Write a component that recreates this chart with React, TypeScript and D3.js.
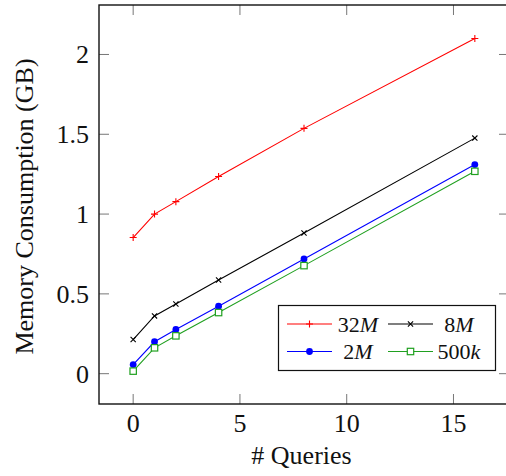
import React from "react";
import * as d3 from "d3";

// Number of concurrent queries (x values shared by every series)
const queries = [0, 1, 2, 4, 8, 16];

// Memory consumption in GB per dataset size
const mem32M = [0.853, 1.0, 1.078, 1.235, 1.537, 2.1];
const mem8M = [0.214, 0.362, 0.437, 0.587, 0.881, 1.476];
const mem2M = [0.057, 0.2, 0.277, 0.423, 0.719, 1.31];
const mem500k = [0.016, 0.162, 0.237, 0.383, 0.677, 1.268];

const xTicks = [0, 5, 10, 15];
const yTicks = [0, 0.5, 1, 1.5, 2];
const yTickLabels = ["0", "0.5", "1", "1.5", "2"];

type Marker = "plus" | "cross" | "dot" | "square";
const series = [
  { num: "32", unit: "M", values: mem32M, color: "#ff0000", marker: "plus" as Marker },
  { num: "8", unit: "M", values: mem8M, color: "#000000", marker: "cross" as Marker },
  { num: "2", unit: "M", values: mem2M, color: "#0000ff", marker: "dot" as Marker },
  { num: "500", unit: "k", values: mem500k, color: "#20a020", marker: "square" as Marker },
];

const W = 506;
const H = 476;
const box = { left: 99, right: 509, top: 5, bottom: 404 };
const FONT = '"Liberation Serif", "Times New Roman", serif';

const x = d3.scaleLinear().domain([-1.6, 17.6]).range([box.left, box.right]);
const y = d3.scaleLinear().domain([-0.19, 2.31]).range([box.bottom, box.top]);

function MarkerShape({ kind, cx, cy, color }: { kind: Marker; cx: number; cy: number; color: string }) {
  if (kind === "plus") {
    const s = 3.5;
    return (
      <path d={`M${cx - s},${cy}H${cx + s}M${cx},${cy - s}V${cy + s}`} stroke={color} strokeWidth={1.1} fill="none" />
    );
  }
  if (kind === "cross") {
    const s = 2.6;
    return (
      <path
        d={`M${cx - s},${cy - s}L${cx + s},${cy + s}M${cx - s},${cy + s}L${cx + s},${cy - s}`}
        stroke={color}
        strokeWidth={1.1}
        fill="none"
      />
    );
  }
  if (kind === "dot") {
    return <circle cx={cx} cy={cy} r={3.4} fill={color} />;
  }
  const s = 3.2;
  return <rect x={cx - s} y={cy - s} width={2 * s} height={2 * s} fill="white" stroke={color} strokeWidth={1.2} />;
}

export default function App() {
  const line = d3
    .line<number>()
    .x((_, i) => x(queries[i]))
    .y((v) => y(v));

  const legend = { x0: 278.5, y0: 305.5, w: 217, h: 65 };
  const rowY = [324, 351.5];
  const colX = [287, 388];

  return (
    <svg
      width={W}
      height={H}
      style={{ position: "absolute", left: 0, top: 0, background: "white", fontFamily: FONT }}
    >
      {/* tick marks on all four sides */}
      <g stroke="#777" strokeWidth={1}>
        {xTicks.map((t) => (
          <g key={`xt${t}`}>
            <line x1={x(t)} x2={x(t)} y1={box.bottom} y2={box.bottom - 10} />
            <line x1={x(t)} x2={x(t)} y1={box.top} y2={box.top + 10} />
          </g>
        ))}
        {yTicks.map((t) => (
          <g key={`yt${t}`}>
            <line x1={box.left} x2={box.left + 10} y1={y(t)} y2={y(t)} />
            <line x1={box.right} x2={box.right - 10} y1={y(t)} y2={y(t)} />
          </g>
        ))}
      </g>

      {/* series */}
      {series.map((s) => (
        <g key={s.num + s.unit}>
          <path d={line(s.values) || ""} fill="none" stroke={s.color} strokeWidth={1.1} />
          {s.values.map((v, i) => (
            <MarkerShape key={i} kind={s.marker} cx={x(queries[i])} cy={y(v)} color={s.color} />
          ))}
        </g>
      ))}

      {/* axis frame */}
      <rect
        x={box.left}
        y={box.top}
        width={box.right - box.left}
        height={box.bottom - box.top}
        fill="none"
        stroke="#111"
        strokeWidth={1.4}
      />

      {/* tick labels */}
      <g fontSize={26} fill="#111">
        {xTicks.map((t) => (
          <text key={`xl${t}`} x={x(t)} y={432} textAnchor="middle">
            {t}
          </text>
        ))}
        {yTicks.map((t, i) => (
          <text key={`yl${t}`} x={89} y={y(t) + 9} textAnchor="end">
            {yTickLabels[i]}
          </text>
        ))}
      </g>

      {/* axis titles */}
      <text x={(box.left + 506) / 2 - 1} y={464} textAnchor="middle" fontSize={26} fill="#111">
        # Queries
      </text>
      <text
        transform={`translate(33,${(box.top + box.bottom) / 2 + 2}) rotate(-90)`}
        textAnchor="middle"
        fontSize={26}
        fill="#111"
      >
        Memory Consumption (GB)
      </text>

      {/* legend */}
      <rect x={legend.x0} y={legend.y0} width={legend.w} height={legend.h} fill="white" stroke="#111" strokeWidth={1.2} />
      {series.map((s, i) => {
        const cx = colX[i % 2];
        const cy = rowY[Math.floor(i / 2)];
        return (
          <g key={`lg${i}`}>
            <line x1={cx} x2={cx + 45} y1={cy} y2={cy} stroke={s.color} strokeWidth={1.1} />
            <MarkerShape kind={s.marker} cx={cx + 22.5} cy={cy} color={s.color} />
            <text x={cx + 71} y={cy + 7.5} textAnchor="middle" fontSize={22} fill="#111">
              {s.num}
              <tspan fontStyle="italic">{s.unit}</tspan>
            </text>
          </g>
        );
      })}
    </svg>
  );
}
